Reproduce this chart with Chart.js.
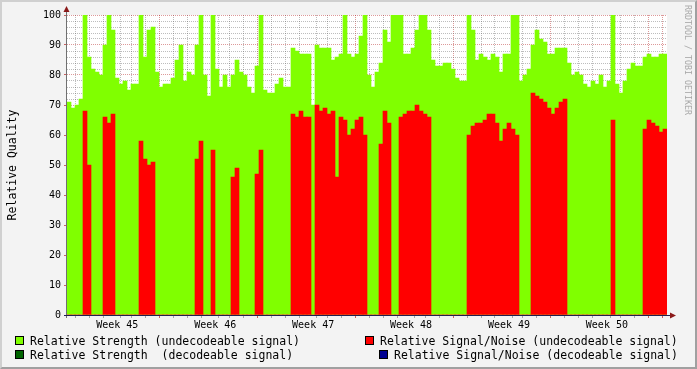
<!DOCTYPE html>
<html>
<head>
<meta charset="utf-8">
<script src="https://cdn.jsdelivr.net/npm/chart.js@4.4.1/dist/chart.umd.min.js"></script>
<style>
  body { margin: 0; background: #f3f3f3; }
  #wrap { position: relative; width: 697px; height: 369px; background: #f3f3f3; overflow: hidden;
          font-family: "DejaVu Sans Mono", monospace; color: #000; }
  #frame { position: absolute; left: 0; top: 0; width: 697px; height: 369px; box-sizing: border-box;
           border-top: 2px solid #d0d0d0; border-left: 2px solid #d0d0d0;
           border-bottom: 2px solid #a0a0a0; border-right: 2px solid #a0a0a0; pointer-events: none; }
  canvas { position: absolute; left: 0; top: 0; }
  .ytitle { position: absolute; left: 12px; top: 165px; font-size: 11.5px; white-space: pre;
            transform: translate(-50%, -50%) rotate(-90deg); }
  .mark { position: absolute; left: 693px; top: 5px; font-size: 8.3px; color: #a8a8a8; white-space: pre;
          transform-origin: 0 0; transform: rotate(90deg); }
  .sw { position: absolute; width: 9px; height: 9px; box-sizing: border-box; border: 1px solid #000; }
  .lt { position: absolute; font-size: 11.5px; line-height: 14px; white-space: pre; }
</style>
</head>
<body>
<div id="wrap">
  <canvas id="chart" width="697" height="369"></canvas>
  <div class="ytitle">Relative Quality</div>
  <div class="mark">RRDTOOL / TOBI OETIKER</div>
  <div id="legend"></div>
  <div id="frame"></div>
</div>
<script>
// Relative Strength (undecodeable) per sample, ~4 px per sample in the original
const strengthUndecodeable = [
  71, 69, 70, 72, 100, 86, 82, 81, 80, 90,
  100, 95, 79, 77, 78, 75, 77, 77, 100, 86,
  95, 96, 81, 76, 77, 77, 79, 85, 90, 78,
  81, 80, 90, 100, 80, 73, 100, 82, 76, 80,
  76, 80, 85, 81, 80, 76, 74, 83, 100, 75,
  74, 74, 77, 79, 76, 76, 89, 88, 87, 87,
  87, 70, 90, 89, 89, 89, 85, 86, 87, 100,
  87, 86, 87, 93, 100, 80, 76, 81, 84, 95,
  91, 100, 100, 100, 87, 87, 89, 95, 100, 100,
  95, 85, 83, 83, 84, 84, 82, 79, 78, 78,
  100, 95, 85, 87, 86, 85, 87, 86, 81, 87,
  87, 100, 100, 78, 80, 82, 90, 95, 92, 91,
  87, 87, 89, 89, 89, 84, 80, 81, 80, 77,
  76, 78, 77, 80, 76, 78, 100, 77, 74, 78,
  82, 84, 83, 83, 86, 87, 86, 86, 87, 87
];
// Relative Signal/Noise (undecodeable)
const snrUndecodeable = [
  0, 0, 0, 0, 68, 50, 0, 0, 0, 66,
  64, 67, 0, 0, 0, 0, 0, 0, 58, 52,
  50, 51, 0, 0, 0, 0, 0, 0, 0, 0,
  0, 0, 52, 58, 0, 0, 55, 0, 0, 0,
  0, 46, 49, 0, 0, 0, 0, 47, 55, 0,
  0, 0, 0, 0, 0, 0, 67, 66, 68, 66,
  66, 0, 70, 68, 69, 67, 68, 46, 66, 65,
  60, 62, 65, 66, 60, 0, 0, 0, 57, 68,
  64, 0, 0, 66, 67, 68, 68, 70, 68, 67,
  66, 0, 0, 0, 0, 0, 0, 0, 0, 0,
  60, 63, 64, 64, 65, 67, 67, 64, 58, 62,
  64, 62, 60, 0, 0, 0, 74, 73, 72, 71,
  69, 67, 69, 71, 72, 0, 0, 0, 0, 0,
  0, 0, 0, 0, 0, 0, 65, 0, 0, 0,
  0, 0, 0, 0, 62, 65, 64, 63, 61, 62
];
// decodeable series carry no data in this period
const strengthDecodeable = [];
const snrDecodeable = [];

// x axis: days relative to the start of week 46
const xMin = -6.65;
const xMax = 35.35;
const weekNumbers = [45, 46, 47, 48, 49, 50];
const yTicksMajor = 10;

const legendItems = [
  { label: 'Relative Strength (undecodeable signal)', color: '#80ff00', sx: 15, sy: 336, tx: 30, ty: 334 },
  { label: 'Relative Signal/Noise (undecodeable signal)', color: '#ff0000', sx: 365, sy: 336, tx: 380, ty: 334 },
  { label: 'Relative Strength  (decodeable signal)', color: '#006400', sx: 15, sy: 350, tx: 30, ty: 348 },
  { label: 'Relative Signal/Noise (decodeable signal)', color: '#000090', sx: 379, sy: 350, tx: 394, ty: 348 }
];

const sampleLabels = strengthUndecodeable.map((_, i) => i);

const legendEl = document.getElementById('legend');
legendItems.forEach((it) => {
  const sw = document.createElement('div');
  sw.className = 'sw';
  sw.style.cssText = `left:${it.sx}px;top:${it.sy}px;background:${it.color}`;
  const t = document.createElement('div');
  t.className = 'lt';
  t.style.cssText = `left:${it.tx}px;top:${it.ty}px`;
  t.textContent = it.label;
  legendEl.appendChild(sw);
  legendEl.appendChild(t);
});

const MAJOR = 'rgba(170, 0, 0, 0.4)';
const MINOR = 'rgba(90, 90, 90, 0.4)';

// white canvas behind the plot, axis lines and arrows on top
const frame = {
  id: 'frame',
  beforeDraw(chart) {
    const { ctx, chartArea: a } = chart;
    ctx.save();
    ctx.fillStyle = '#ffffff';
    ctx.fillRect(a.left, a.top, a.right - a.left, a.bottom - a.top);
    ctx.restore();
  },
  afterDraw(chart) {
    const { ctx, chartArea: a } = chart;
    const x0 = a.left - 0.5, y0 = a.bottom + 0.5;
    ctx.save();
    ctx.lineWidth = 1;
    ctx.strokeStyle = '#707070';
    ctx.beginPath();
    ctx.moveTo(x0, a.top - 5);
    ctx.lineTo(x0, a.bottom + 3);
    ctx.stroke();
    ctx.strokeStyle = '#202050';
    ctx.beginPath();
    ctx.moveTo(a.left - 3, y0);
    ctx.lineTo(a.right + 5, y0);
    ctx.stroke();
    ctx.fillStyle = '#8b1a1a';
    ctx.beginPath();
    ctx.moveTo(x0 - 3, a.top - 3);
    ctx.lineTo(x0 + 3, a.top - 3);
    ctx.lineTo(x0, a.top - 9);
    ctx.closePath();
    ctx.fill();
    ctx.beginPath();
    ctx.moveTo(a.right + 3, y0 - 3);
    ctx.lineTo(a.right + 3, y0 + 3);
    ctx.lineTo(a.right + 9, y0);
    ctx.closePath();
    ctx.fill();
    ctx.restore();
  }
};

const barStyle = { borderWidth: 0, barPercentage: 1, categoryPercentage: 1, grouped: false, xAxisID: 'x', yAxisID: 'y' };

new Chart(document.getElementById('chart'), {
  type: 'bar',
  data: {
    labels: sampleLabels,
    datasets: [
      { ...barStyle, label: 'Relative Signal/Noise (decodeable signal)', data: snrDecodeable, backgroundColor: '#000090', order: 0 },
      { ...barStyle, label: 'Relative Strength (decodeable signal)', data: strengthDecodeable, backgroundColor: '#006400', order: 1 },
      { ...barStyle, label: 'Relative Signal/Noise (undecodeable signal)', data: snrUndecodeable, backgroundColor: '#ff0000', order: 2 },
      { ...barStyle, label: 'Relative Strength (undecodeable signal)', data: strengthUndecodeable, backgroundColor: '#80ff00', order: 3 }
    ]
  },
  options: {
    responsive: false,
    animation: false,
    events: [],
    layout: { padding: { left: 0, right: 30, top: 15, bottom: 34 } },
    plugins: { legend: { display: false }, tooltip: { enabled: false } },
    scales: {
      x: { type: 'category', display: false, offset: true, stacked: false },
      days: {
        type: 'linear',
        position: 'bottom',
        min: xMin,
        max: xMax,
        z: 1,
        afterBuildTicks(scale) {
          const ticks = [];
          for (let d = Math.ceil(xMin); d <= xMax; d++) ticks.push({ value: d });
          weekNumbers.forEach((w, k) => ticks.push({ value: (k - 1) * 7 + 3.5 }));
          ticks.sort((p, q) => p.value - q.value);
          scale.ticks = ticks;
        },
        afterFit(scale) { scale.height = 20; },
        border: { display: false, dash: [1, 1] },
        grid: {
          lineWidth: 1,
          tickLength: 3,
          color: (c) => {
            const v = c.tick ? c.tick.value : 0;
            if (!Number.isInteger(v)) return 'rgba(0,0,0,0)';
            return v % 7 === 0 ? MAJOR : MINOR;
          },
          tickColor: (c) => {
            const v = c.tick ? c.tick.value : 0;
            if (!Number.isInteger(v)) return 'rgba(0,0,0,0)';
            return v % 7 === 0 ? 'rgba(170,0,0,0.6)' : 'rgba(90,90,90,0.5)';
          }
        },
        ticks: {
          autoSkip: false,
          maxRotation: 0,
          padding: 1,
          color: '#000',
          font: { family: 'DejaVu Sans Mono', size: 10 },
          callback: (v) => {
            if (Number.isInteger(v)) return '';
            const k = Math.round((v - 3.5) / 7) + 1;
            return weekNumbers[k] !== undefined ? 'Week ' + weekNumbers[k] : '';
          }
        }
      },
      y: {
        type: 'linear',
        min: 0,
        max: 100,
        z: 1,
        afterFit(scale) { scale.width = 67; },
        border: { display: false, dash: [1, 1] },
        grid: {
          lineWidth: 1,
          tickLength: 3,
          color: (c) => (c.tick && c.tick.value % yTicksMajor === 0 ? MAJOR : MINOR),
          tickColor: (c) => (c.tick && c.tick.value % yTicksMajor === 0 ? 'rgba(170,0,0,0.6)' : 'rgba(0,0,0,0)')
        },
        ticks: {
          stepSize: 2,
          autoSkip: false,
          padding: 3,
          color: '#000',
          font: { family: 'DejaVu Sans Mono', size: 10 },
          callback: (v) => (v % yTicksMajor === 0 ? String(v) : '')
        }
      }
    }
  },
  plugins: [frame]
});
</script>
</body>
</html>
